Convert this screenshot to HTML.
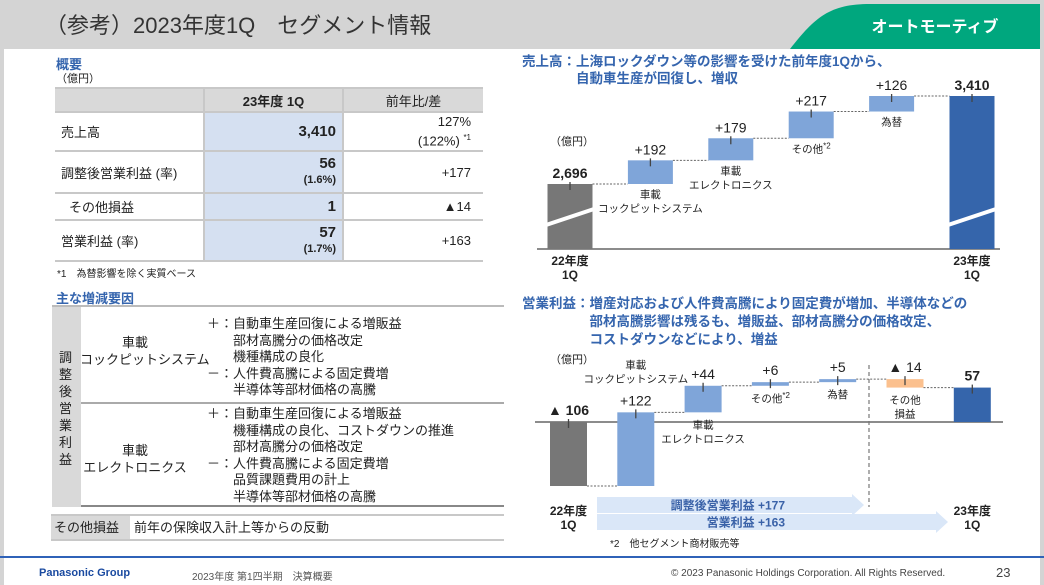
<!DOCTYPE html>
<html><head><meta charset="utf-8">
<style>
*{margin:0;padding:0;box-sizing:border-box}
body{width:1044px;height:585px;position:relative;overflow:hidden;background:#fff;font-family:"Liberation Sans","Noto Sans CJK JP",sans-serif;color:#222}
.a{position:absolute}
.hd{left:0;top:0;width:1044px;height:49px;background:#d4d4d4}
.ttl{left:45px;top:8px;font-size:22px;color:#333;white-space:nowrap}
.blue{color:#3565ae;font-weight:bold}
table{border-collapse:collapse}
.t1{left:55px;top:87px;width:428px;font-size:13px}
.t1 td{border-bottom:2px solid #c8c8c8;padding:0 6px}
.t1 td.v{background:#d5e0f1;border-left:2px solid #c8c8c8;border-right:2px solid #c8c8c8;text-align:right;font-weight:bold}
.t1 td.r{text-align:right;padding-right:12px}
.sm{font-size:11px}
.fx{font-size:13px;line-height:17px;white-space:nowrap}
.fx2{font-size:13px;line-height:16.6px;white-space:nowrap}
</style></head><body>
<div class="a hd"></div>
<div class="a" style="left:0;top:0;width:4px;height:585px;background:#d4d4d4"></div>
<div class="a" style="left:1040px;top:0;width:4px;height:585px;background:#d4d4d4"></div>
<div class="a ttl">（参考）2023年度1Q　セグメント情報</div>
<svg class="a" style="left:790px;top:2px" width="250" height="47"><path d="M0,47 C25,15 40,2 80,2 L250,2 L250,47 Z" fill="#00a77e"/><text x="145" y="30" font-size="16" font-weight="bold" fill="#fff" text-anchor="middle" font-family="Liberation Sans,Noto Sans CJK JP,sans-serif">オートモーティブ</text></svg>

<div class="a blue" style="left:56px;top:54px;font-size:13px">概要</div>
<div class="a" style="left:56px;top:70px;font-size:11px">（億円）</div>
<table class="a t1">
<tr style="height:24px;background:#d9d9d9"><td style="width:149px;border-top:2px solid #c8c8c8"></td><td style="width:139px;text-align:center;font-weight:bold;border-left:2px solid #c8c8c8;border-right:2px solid #c8c8c8;border-top:2px solid #c8c8c8">23年度 1Q</td><td style="text-align:center;border-top:2px solid #c8c8c8">前年比/差</td></tr>
<tr style="height:39px"><td>売上高</td><td class="v" style="font-size:15px">3,410</td><td class="r" style="line-height:16px">127%<br>(122%) <sup style="font-size:8px">*1</sup></td></tr>
<tr style="height:42px"><td>調整後営業利益 (率)</td><td class="v" style="line-height:15px"><span style="font-size:15px">56</span><br><span class="sm">(1.6%)</span></td><td class="r">+177</td></tr>
<tr style="height:27px"><td style="padding-left:14px">その他損益</td><td class="v" style="font-size:15px">1</td><td class="r">▲14</td></tr>
<tr style="height:41px"><td>営業利益 (率)</td><td class="v" style="line-height:15px"><span style="font-size:15px">57</span><br><span class="sm">(1.7%)</span></td><td class="r">+163</td></tr>
</table>
<div class="a" style="left:57px;top:265px;font-size:10px">*1　為替影響を除く実質ベース</div>

<div class="a blue" style="left:56px;top:288px;font-size:13px">主な増減要因</div>
<div class="a" style="left:52px;top:305px;width:452px;height:202px;border-top:2px solid #bbb;border-bottom:2px solid #888">
 <div class="a" style="left:0;top:0;width:29px;height:200px;background:#d9d9d9"></div>
 <div class="a fx" style="left:7px;top:42px;width:16px;white-space:normal;line-height:17px;font-size:13px">調整後営業利益</div>
 <div class="a" style="left:29px;top:95px;width:423px;height:2px;background:#aaa"></div>
 <div class="a fx" style="left:28px;top:27px;width:110px;text-align:center">車載<br>コックピットシステム</div>
 <div class="a fx2" style="left:155px;top:9px">＋：自動車生産回復による増販益<br>　　部材高騰分の価格改定<br>　　機種構成の良化<br>－：人件費高騰による固定費増<br>　　半導体等部材価格の高騰</div>
 <div class="a fx" style="left:28px;top:135px;width:110px;text-align:center">車載<br>エレクトロニクス</div>
 <div class="a fx2" style="left:155px;top:99px">＋：自動車生産回復による増販益<br>　　機種構成の良化、コストダウンの推進<br>　　部材高騰分の価格改定<br>－：人件費高騰による固定費増<br>　　品質課題費用の計上<br>　　半導体等部材価格の高騰</div>
</div>
<div class="a" style="left:51px;top:514px;width:453px;height:27px;border-top:2px solid #c8c8c8;border-bottom:2px solid #c8c8c8">
 <div class="a fx" style="left:0;top:0;width:79px;height:23px;background:#d9d9d9;padding:3px 0 0 3px">その他損益</div>
 <div class="a fx" style="left:83px;top:3px">前年の保険収入計上等からの反動</div>
</div>

<div class="a blue" style="left:522px;top:53px;font-size:13.5px;line-height:17px;white-space:nowrap">売上高：上海ロックダウン等の影響を受けた前年度1Qから、<br>　　　　自動車生産が回復し、増収</div>
<div class="a blue" style="left:522px;top:295px;font-size:13.5px;line-height:18px;white-space:nowrap">営業利益：増産対応および人件費高騰により固定費が増加、半導体などの<br>　　　　　部材高騰影響は残るも、増販益、部材高騰分の価格改定、<br>　　　　　コストダウンなどにより、増益</div>
<div class="a" style="left:550px;top:133px;font-size:11px">（億円）</div>
<div class="a" style="left:550px;top:351px;font-size:11px">（億円）</div>

<svg id="ch" class="a" style="left:0;top:0" width="1044" height="585"></svg>

<div class="a" style="left:0;top:556px;width:1044px;height:2px;background:#2f62b8"></div>
<div class="a" style="left:39px;top:567px;font-size:11px;font-weight:bold;color:#1a4aa0">Panasonic Group</div>
<div class="a" style="left:192px;top:568px;font-size:10px;color:#555">2023年度 第1四半期　決算概要</div>
<div class="a" style="left:671px;top:568px;font-size:10px;color:#444">© 2023 Panasonic Holdings Corporation. All Rights Reserved.</div>
<div class="a" style="left:996px;top:565px;font-size:13px;color:#444">23</div>

<script>
const salesCats=["22年度\n1Q","車載\nコックピットシステム","車載\nエレクトロニクス","その他*2","為替","23年度\n1Q"];
const salesVals=[2696,192,179,217,126,3410];
const salesLabels=["2,696","+192","+179","+217","+126","3,410"];
const opCats=["22年度\n1Q","車載\nコックピットシステム","車載\nエレクトロニクス","その他*2","為替","その他\n損益","23年度\n1Q"];
const opVals=[-106,122,44,6,5,-14,57];
const opLabels=["▲ 106","+122","+44","+6","+5","▲ 14","57"];

const svg=document.getElementById('ch');const NS='http://www.w3.org/2000/svg';
function el(t,a,p){const e=document.createElementNS(NS,t);for(const k in a)e.setAttribute(k,a[k]);(p||svg).appendChild(e);return e;}
function txt(x,y,s,o){const lines=s.split('\n');lines.forEach((l,i)=>{const t=el('text',Object.assign({x:x,y:y+i*(o.lh||15),'text-anchor':'middle','font-size':o.fs||12,fill:'#222','font-family':'Liberation Sans,Noto Sans CJK JP,sans-serif'},o.w?{'font-weight':'bold'}:{}));


if(l.indexOf('*')>=0){const p=l.split('*');t.textContent=p[0];const ts=el('tspan',{'font-size':8,dy:-4},t);ts.textContent='*'+p[1];}else t.textContent=l;});}

(function(){
 const base=249, ref=2696, refY=184, k=88/714;
 const y=v=>refY-(v-ref)*k;
 const x0=570, dx=80.4, bw=45;
 el('line',{x1:537,x2:1000,y1:base,y2:base,stroke:'#666','stroke-width':1.5});
 let cum=0;const n=salesVals.length;
 for(let i=0;i<n;i++){
  const cx=x0+i*dx;let top,bot,fill;
  if(i===0){cum=salesVals[0];top=y(cum);bot=base;fill='#777';}
  else if(i===n-1){top=y(salesVals[i]);bot=base;fill='#3565ab';cum=salesVals[i];}
  else{bot=y(cum);cum+=salesVals[i];top=y(cum);fill='#7fa5d9';}
  const r=el('rect',{x:cx-bw/2,y:top,width:bw,height:bot-top,fill:fill});
  
  
  el('line',{x1:cx,x2:cx,y1:top-2,y2:top+6,stroke:'#444','stroke-width':1.3});
  txt(cx,top-6,salesLabels[i],{fs:14,w:(i===0||i===n-1),name:'sales-value-label'});
  if(i===0||i===n-1){
   el('path',{d:`M${cx-30},${bot-22} L${cx+30},${bot-42}`,stroke:'#fff','stroke-width':4});
   txt(cx,base+16,salesCats[i],{fs:12,w:true,lh:14,name:'sales-category'});
  } else txt(cx,bot+14,salesCats[i],{fs:10.5,lh:14,name:'sales-category'});
  if(i<n-1){const nx=x0+(i+1)*dx;const lv=(i===n-2)?y(salesVals[n-1]):y(cum);
   el('line',{x1:cx+bw/2,x2:nx-bw/2,y1:lv,y2:lv,stroke:'#666','stroke-width':1,'stroke-dasharray':'2,1.5'});}
 }
})();

(function(){
 const base=422, k=64/106;
 const y=v=>base-v*k;
 const x0=568.5, dx=67.3, bw=37;
 el('line',{x1:535,x2:1003,y1:base,y2:base,stroke:'#666','stroke-width':1.5});
 el('line',{x1:869,x2:869,y1:365,y2:507,stroke:'#777','stroke-width':1.2,'stroke-dasharray':'4,3'});
 let cum=0;const n=opVals.length;
 for(let i=0;i<n;i++){
  const cx=x0+i*dx;let a,b,fill;
  if(i===0){a=0;b=opVals[0];fill='#777';cum=b;}
  else if(i===n-1){a=0;b=opVals[i];fill='#3565ab';cum=b;}
  else{a=cum;cum+=opVals[i];b=cum;fill=opVals[i]<0?'#fbc08e':'#7fa5d9';}
  const top=Math.min(y(a),y(b)),bot=Math.max(y(a),y(b));
  const r=el('rect',{x:cx-bw/2,y:top,width:bw,height:Math.max(bot-top,2.5),fill:fill});
  
  
  const lt=(i===0)?base:top;
  el('line',{x1:cx,x2:cx,y1:lt-3,y2:lt+6,stroke:'#444','stroke-width':1.3});
  txt(cx,lt-7,opLabels[i],{fs:14,w:(i===0||i===n-1),name:'op-value-label'});
  if(i===0||i===n-1) txt(cx,515,opCats[i],{fs:12,w:true,lh:14,name:'op-category'});
  else if(i===1) txt(cx,top-44,opCats[i],{fs:10.5,lh:14,name:'op-category'});
  else txt(cx,Math.max(bot,top+2.5)+16,opCats[i],{fs:10.5,lh:14,name:'op-category'});
  if(i<n-1){const nx=x0+(i+1)*dx;const lv=(i===n-2)?y(opVals[n-1]):y(cum);
   el('line',{x1:cx+bw/2,x2:nx-bw/2,y1:lv,y2:lv,stroke:'#666','stroke-width':1,'stroke-dasharray':'2,1.5'});}
 }
 const ar=[[597,864,505,'調整後営業利益  +177',785],[597,948,522,'営業利益  +163',785]];
 ar.forEach((q,j)=>{const p=el('path',{d:`M${q[0]},${q[2]-8} L${q[1]-12},${q[2]-8} L${q[1]-12},${q[2]-11} L${q[1]},${q[2]} L${q[1]-12},${q[2]+11} L${q[1]-12},${q[2]+8} L${q[0]},${q[2]+8} Z`,fill:'#dae7f8'});
  
  
  const t=el('text',{x:q[4],y:q[2]+4.5,'text-anchor':'end','font-size':12,'font-weight':'bold',fill:'#3a62a8','font-family':'Liberation Sans,Noto Sans CJK JP,sans-serif'});t.textContent=q[3];
  
  });
 const f=el('text',{x:610,y:547,'font-size':10,fill:'#222','font-family':'Liberation Sans,Noto Sans CJK JP,sans-serif'});f.textContent='*2　他セグメント商材販売等';
 
 
})();
</script>
</body></html>
